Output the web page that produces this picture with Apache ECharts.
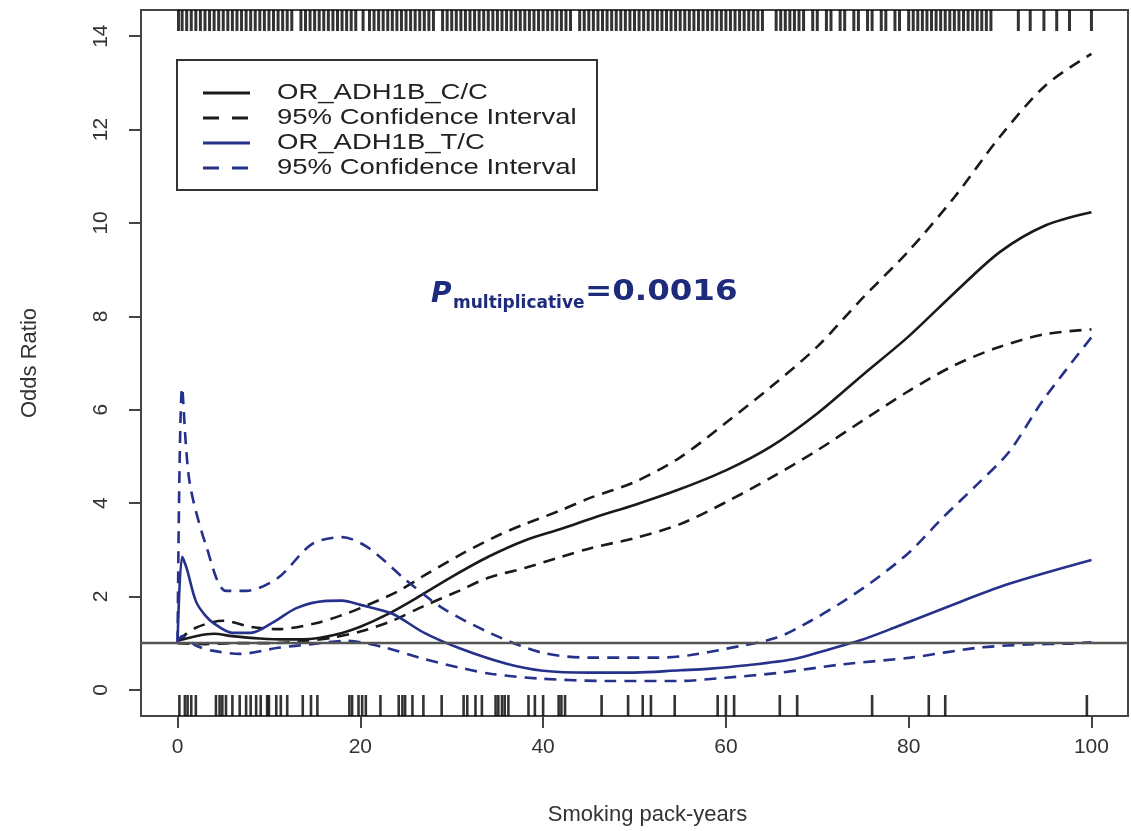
<!DOCTYPE html>
<html>
<head>
<meta charset="utf-8">
<title>Odds Ratio vs Smoking pack-years</title>
<script src="https://cdn.jsdelivr.net/npm/echarts@6/dist/echarts.min.js"></script>
<style>
  html, body { margin: 0; padding: 0; background: #ffffff; }
  #chart { width: 1131px; height: 831px; }
</style>
</head>
<body>
<div id="chart"></div>
<script>
// axis ticks
var xTicks = [0, 20, 40, 60, 80, 100];
var yTicks = [0, 2, 4, 6, 8, 10, 12, 14];

// OR_ADH1B_C/C and its 95% CI
var ccX = [0, 2, 4, 6, 9, 12, 15, 18, 20, 23, 26, 30, 34, 38, 42, 46, 50, 55, 60, 65, 70, 75, 80, 85, 90, 95, 100];
var ccOR = [1.05, 1.15, 1.2, 1.15, 1.1, 1.08, 1.1, 1.22, 1.35, 1.62, 1.95, 2.42, 2.85, 3.2, 3.45, 3.72, 3.96, 4.3, 4.7, 5.22, 5.92, 6.75, 7.57, 8.5, 9.38, 9.95, 10.23];
var ccUpX = [0, 2, 5, 8, 11, 15, 18, 20, 24, 27, 31, 35, 38, 42, 45, 50, 55, 60, 65, 70, 75, 80, 85, 90, 95, 100];
var ccUp = [1.05, 1.33, 1.48, 1.35, 1.3, 1.42, 1.6, 1.75, 2.1, 2.45, 2.9, 3.3, 3.55, 3.85, 4.1, 4.45, 4.98, 5.72, 6.5, 7.35, 8.4, 9.4, 10.55, 11.85, 12.95, 13.62];
var ccLoX = [0, 3, 6, 10, 14, 17, 20, 23.5, 27, 30.8, 34, 38, 42, 45.3, 50, 55, 60, 65, 70, 75, 80, 85, 90, 95, 100];
var ccLo = [1.0, 0.98, 1.0, 1.0, 1.05, 1.12, 1.25, 1.48, 1.8, 2.12, 2.4, 2.61, 2.85, 3.04, 3.25, 3.55, 4.02, 4.55, 5.13, 5.77, 6.4, 6.95, 7.35, 7.62, 7.72];

// OR_ADH1B_T/C and its 95% CI
var tcX = [0, 0.5, 1, 2, 3, 4, 6, 8, 10.5, 13, 16, 18, 20, 23.5, 27, 31, 36, 40, 45, 50, 55, 58, 62, 67.5, 71, 74.7, 78.4, 84, 91, 100];
var tcOR = [1.0, 2.85, 2.6, 1.9, 1.6, 1.42, 1.22, 1.22, 1.45, 1.75, 1.9, 1.91, 1.82, 1.63, 1.22, 0.88, 0.56, 0.41, 0.37, 0.37, 0.42, 0.45, 0.52, 0.66, 0.85, 1.06, 1.33, 1.76, 2.27, 2.78];
var tcUpX = [0, 0.5, 1.3, 3.2, 5.3, 7.5, 11, 14.7, 18, 20.9, 25, 29, 34.4, 39.8, 45, 52.6, 56, 60, 65.6, 69.3, 72.9, 76.6, 80.2, 83.8, 87.5, 91, 94.7, 100];
var tcUp = [1.0, 6.47, 4.47, 3.04, 2.12, 2.12, 2.4, 3.12, 3.27, 3.04, 2.35, 1.75, 1.2, 0.8, 0.69, 0.69, 0.74, 0.88, 1.12, 1.48, 1.9, 2.4, 2.97, 3.7, 4.4, 5.1, 6.2, 7.55];
var tcLoX = [0, 0.5, 2, 3.8, 6.8, 11, 14.7, 18.4, 22.8, 26.4, 31, 34.4, 39.8, 47, 54.7, 60, 65.6, 72.9, 80.2, 87.5, 93, 97.6, 100];
var tcLo = [1.0, 1.15, 0.95, 0.84, 0.77, 0.9, 0.98, 1.05, 0.9, 0.69, 0.47, 0.34, 0.24, 0.19, 0.19, 0.26, 0.36, 0.55, 0.69, 0.9, 0.97, 0.99, 1.02];

// rug marks: pack-years of subjects (top = cases, bottom = controls)
var topRug = [0.1, 0.5, 1, 1.5, 2, 2.5, 3, 3.5, 4, 4.5, 5, 5.5, 6, 6.5, 7, 7.5, 8, 8.5, 9, 9.5, 10, 10.5, 11, 11.5, 12, 12.5,
  13.5, 14, 14.5, 15, 15.5, 16, 16.5, 17, 17.5, 18, 18.5, 19, 19.5,
  20.3, 21, 21.5, 22, 22.5, 23, 23.5, 24, 24.5, 25, 25.5, 26, 26.5, 27, 27.5, 28,
  29, 29.5, 30, 30.5, 31, 31.5, 32, 32.5, 33, 33.5, 34, 34.5, 35, 35.5, 36, 36.5, 37, 37.5, 38, 38.5, 39, 39.5, 40, 40.5, 41, 41.5, 42, 42.5, 43,
  44, 44.5, 45, 45.5, 46, 46.5, 47, 47.5, 48, 48.5, 49, 49.5, 50, 50.5, 51, 51.5, 52, 52.5, 53, 53.5, 54, 54.5, 55, 55.5, 56, 56.5, 57, 57.5, 58, 58.5, 59, 59.5, 60, 60.5, 61, 61.5, 62, 62.5, 63, 63.5, 64,
  65.5, 66, 66.5, 67, 67.5, 68, 68.5, 69.5, 70, 71, 71.5, 72.5, 73, 74, 74.5, 75.5, 76, 77, 77.5, 78.5, 79, 80, 80.5, 81, 81.5, 82, 82.5, 83, 83.5, 84, 84.5, 85, 85.5, 86, 86.5, 87, 87.5, 88, 88.5, 89,
  92, 93.3, 94.8, 96.2, 97.6, 100];
var bottomRug = [0.2, 0.8, 1.1, 1.5, 2.0, 4.2, 4.6, 4.9, 5.3, 6.0, 6.8, 7.5, 8.0, 8.6, 9.1, 9.8, 10.0, 10.8, 11.3, 12.0, 13.7, 14.6, 15.3,
  18.8, 19.1, 19.8, 20.2, 20.6, 22.2, 24.2, 24.6, 24.9, 25.7, 26.9, 28.9, 31.3, 31.7, 32.6, 33.3, 34.8, 35.1, 35.5, 35.8, 36.2,
  38.4, 39.1, 40.0, 41.7, 42.0, 42.4, 46.4, 49.3, 50.9, 51.8, 54.4, 59.1, 60.0, 60.9, 65.9, 67.8, 76.0, 82.2, 84.0, 99.5];

var X_MIN = -4, X_MAX = 104;
var Y_MIN = -0.56, Y_MAX = 14.56;
var BLACK = '#1a1a1a';
var BLUE = '#25318a';
var DASH = [12, 8];

function pairs(xs, ys) {
  return xs.map(function (x, i) { return [x, ys[i]]; });
}

function curve(name, xs, ys, color, dashed) {
  return {
    name: name,
    type: 'line',
    data: pairs(xs, ys),
    showSymbol: false,
    smooth: 0.3,
    lineStyle: { color: color, width: 2.6, type: dashed ? DASH : 'solid' },
    z: 3
  };
}

// rug ticks drawn inward from the box edge
function rug(name, xs, atTop, width) {
  return {
    name: name,
    type: 'custom',
    data: xs.map(function (x) { return [x, atTop ? Y_MAX : Y_MIN]; }),
    renderItem: function (params, api) {
      var p = api.coord([api.value(0), api.value(1)]);
      var len = 21;
      return {
        type: 'line',
        shape: { x1: p[0], y1: p[1], x2: p[0], y2: atTop ? p[1] + len : p[1] - len },
        style: { stroke: '#000', lineWidth: width, opacity: 0.8 }
      };
    },
    z: 2
  };
}

var chart = echarts.init(document.getElementById('chart'));

var legendRows = [
  { label: 'OR_ADH1B_C/C', color: BLACK, dashed: false },
  { label: '95% Confidence Interval', color: BLACK, dashed: true },
  { label: 'OR_ADH1B_T/C', color: BLUE, dashed: false },
  { label: '95% Confidence Interval', color: BLUE, dashed: true }
];

var legendGraphics = [{
  type: 'rect',
  shape: { x: 177, y: 60, width: 420, height: 130 },
  style: { fill: '#fff', stroke: '#333', lineWidth: 2 },
  z: 10
}];
legendRows.forEach(function (row, i) {
  var cy = 93 + i * 25;
  legendGraphics.push({
    type: 'line',
    shape: { x1: 203, y1: cy, x2: 250, y2: cy },
    style: { stroke: row.color, lineWidth: 3, lineDash: row.dashed ? [16, 13] : null },
    z: 11
  });
  legendGraphics.push({
    type: 'text',
    x: 277, y: cy, scaleX: 1.25,
    style: { text: row.label, fill: '#222', font: '22px "Liberation Sans", Arial, sans-serif', verticalAlign: 'middle' },
    z: 11
  });
});

// P value note
var noteColor = '#1e2b7c';
var noteGraphics = [
  {
    type: 'text', x: 431, y: 295,
    style: { text: 'P', fill: noteColor, font: 'italic bold 28px "DejaVu Sans", sans-serif', verticalAlign: 'middle' }
  },
  {
    type: 'text', x: 453, y: 304,
    style: { text: 'multiplicative', fill: noteColor, font: 'bold 17px "DejaVu Sans", sans-serif', verticalAlign: 'middle' }
  },
  {
    type: 'text', x: 585, y: 293, scaleX: 1.16,
    style: { text: '=0.0016', fill: noteColor, font: 'bold 28px "DejaVu Sans", sans-serif', verticalAlign: 'middle' }
  }
];

var option = {
  backgroundColor: '#ffffff',
  animation: false,
  grid: {
    left: 141, top: 10, width: 987, height: 706,
    show: true, borderColor: '#444', borderWidth: 2, backgroundColor: 'transparent'
  },
  xAxis: {
    type: 'value',
    min: X_MIN, max: X_MAX,
    name: 'Smoking pack-years',
    nameLocation: 'middle',
    nameGap: 88,
    nameTextStyle: { fontFamily: 'Liberation Sans', fontSize: 22, color: '#333', padding: [0, 0, 0, 26] },
    axisLine: { show: false, onZero: false },
    axisTick: { show: true, length: 12, customValues: xTicks, lineStyle: { color: '#444', width: 2 } },
    axisLabel: { customValues: xTicks, margin: 21, fontFamily: 'Liberation Sans', fontSize: 21, color: '#333' },
    splitLine: { show: false }
  },
  yAxis: {
    type: 'value',
    min: Y_MIN, max: Y_MAX,
    name: 'Odds Ratio',
    nameLocation: 'middle',
    nameGap: 100,
    nameRotate: 90,
    nameTextStyle: { fontFamily: 'Liberation Sans', fontSize: 22, color: '#333' },
    axisLine: { show: false, onZero: false },
    axisTick: { show: true, length: 12, customValues: yTicks, lineStyle: { color: '#444', width: 2 } },
    axisLabel: { customValues: yTicks, rotate: 90, margin: 29, fontFamily: 'Liberation Sans', fontSize: 21, color: '#333' },
    splitLine: { show: false }
  },
  graphic: legendGraphics.concat(noteGraphics),
  series: [
    rug('cases', topRug, true, 3),
    rug('controls', bottomRug, false, 2.6),
    {
      name: 'reference',
      type: 'line',
      data: [],
      markLine: {
        silent: true,
        symbol: 'none',
        label: { show: false },
        lineStyle: { color: '#555', width: 2.4, type: 'solid' },
        data: [{ yAxis: 1 }]
      }
    },
    curve('OR_ADH1B_C/C', ccX, ccOR, BLACK, false),
    curve('C/C upper 95% CI', ccUpX, ccUp, BLACK, true),
    curve('C/C lower 95% CI', ccLoX, ccLo, BLACK, true),
    curve('OR_ADH1B_T/C', tcX, tcOR, BLUE, false),
    curve('T/C upper 95% CI', tcUpX, tcUp, BLUE, true),
    curve('T/C lower 95% CI', tcLoX, tcLo, BLUE, true)
  ]
};

chart.setOption(option);
</script>
</body>
</html>
